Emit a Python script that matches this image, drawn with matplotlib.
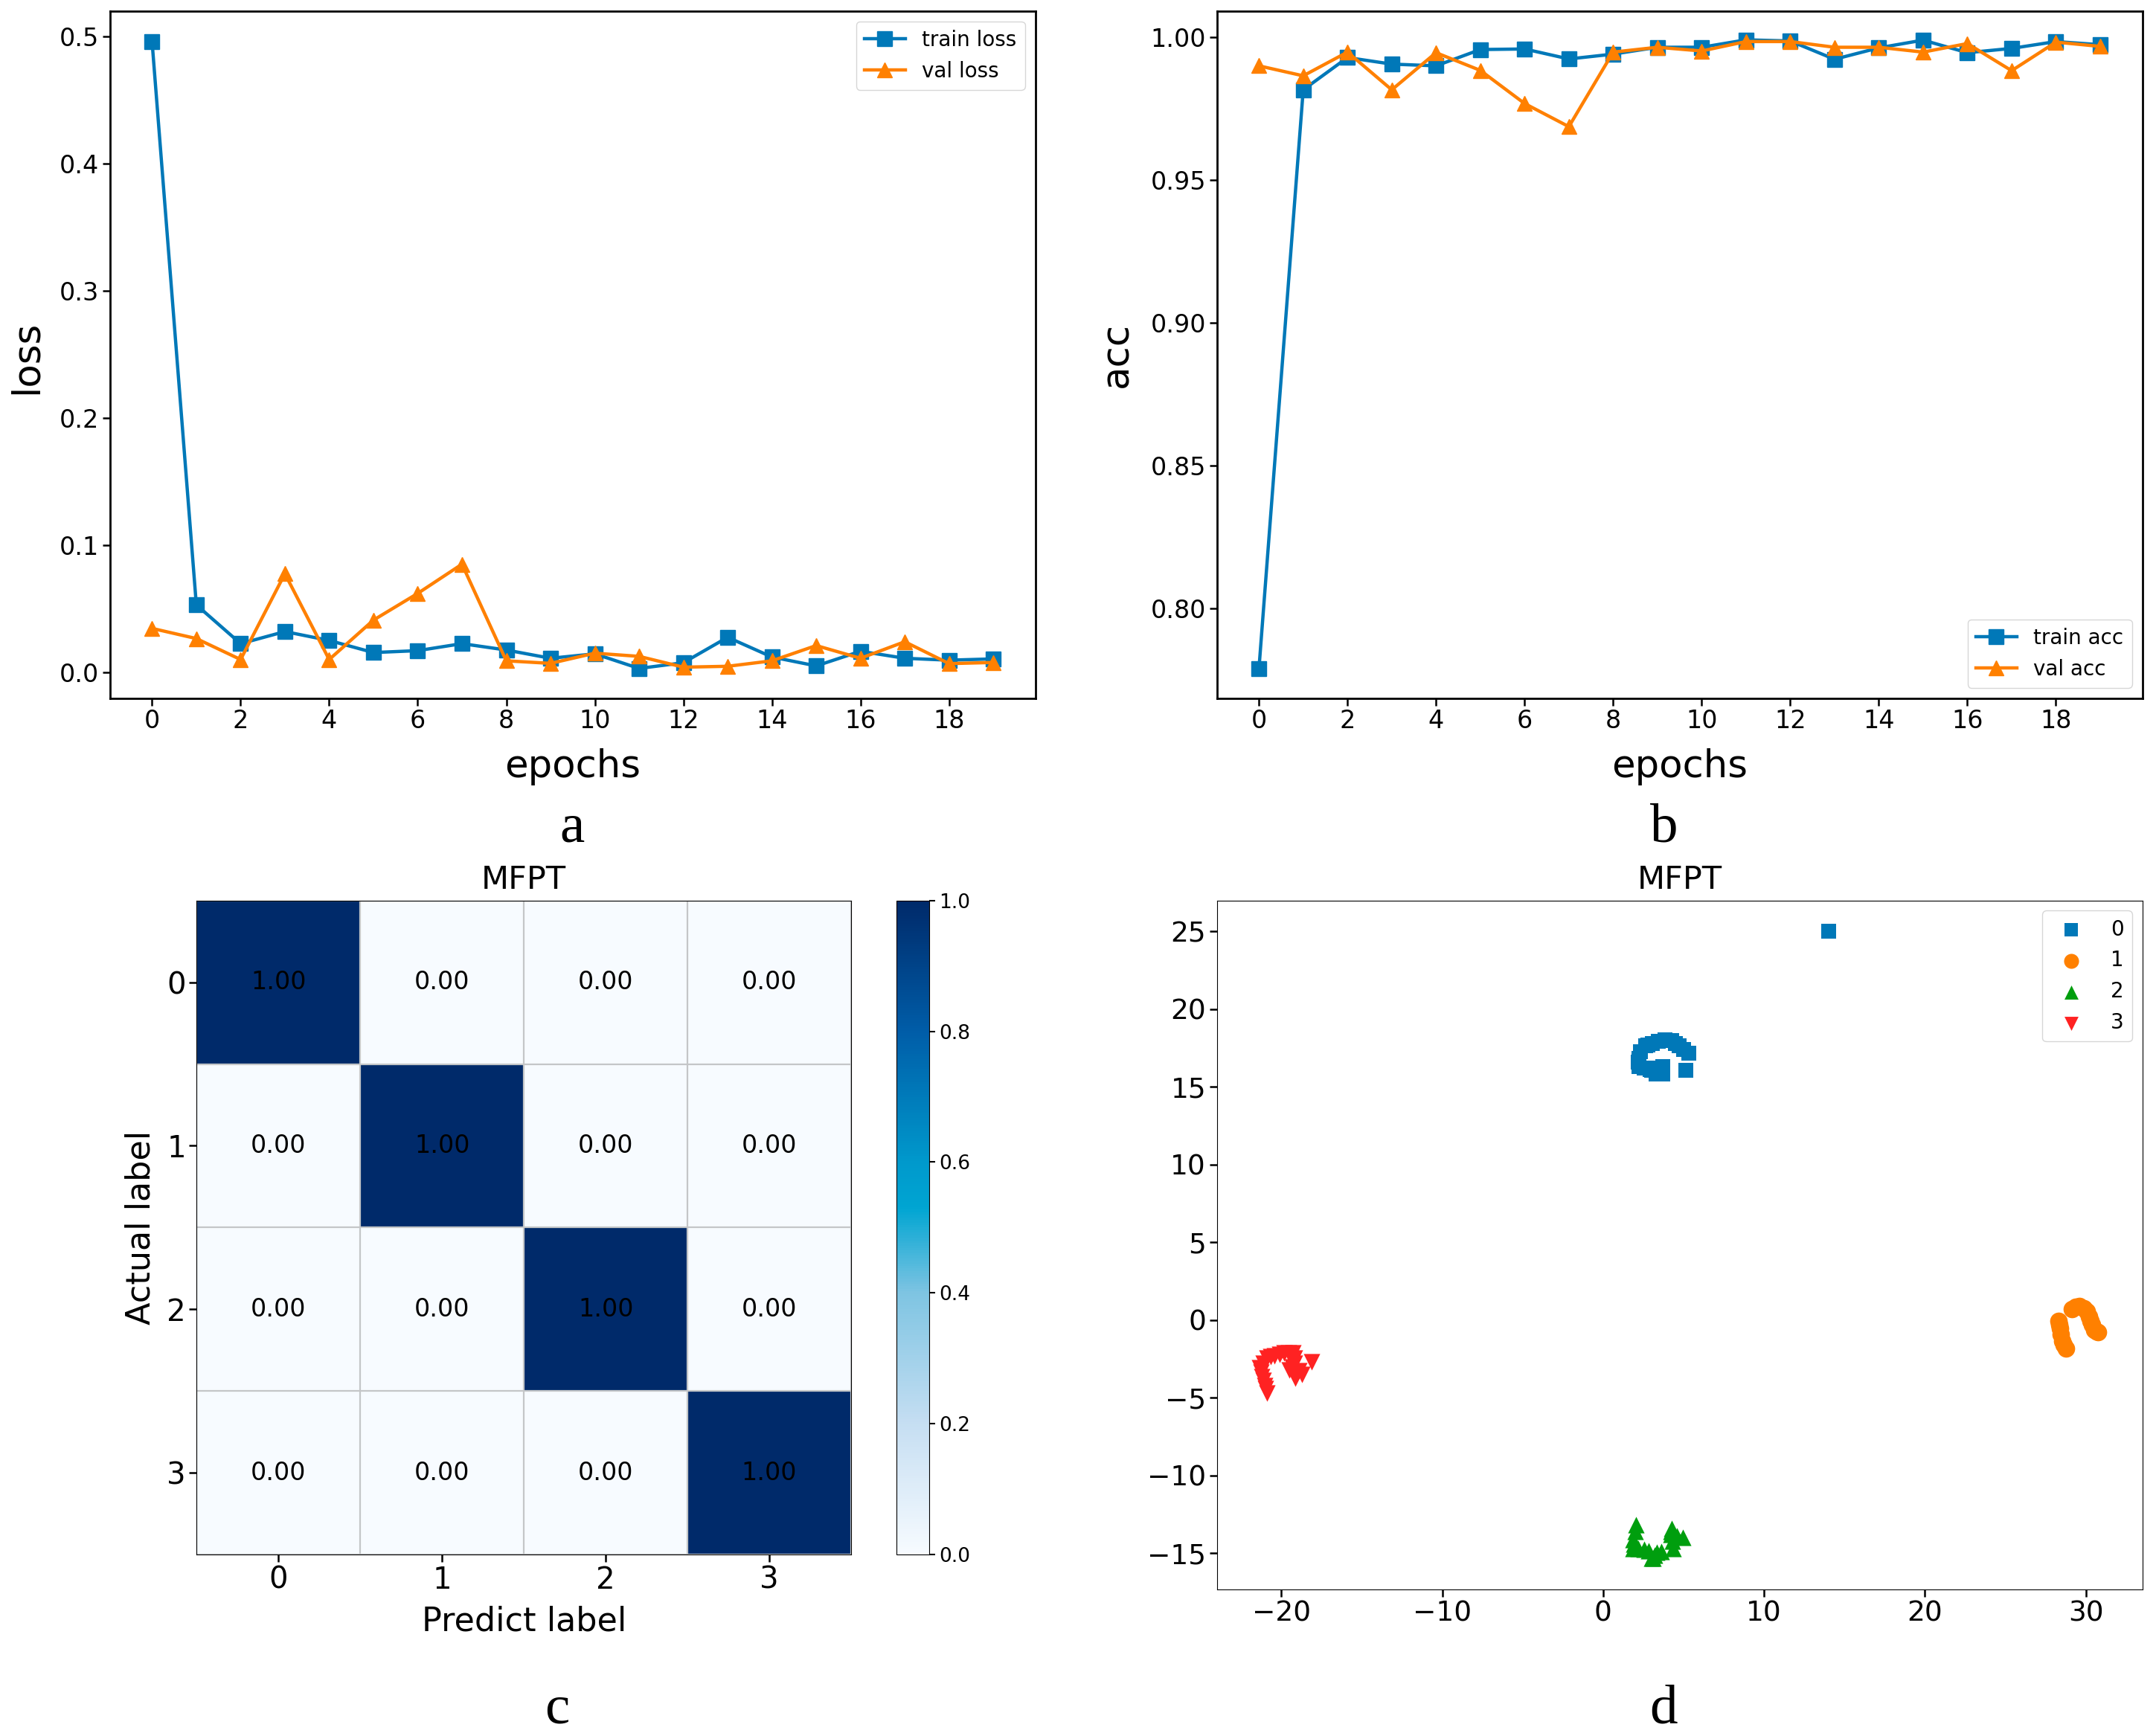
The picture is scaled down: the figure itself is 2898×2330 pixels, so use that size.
import numpy as np
import matplotlib
matplotlib.use("Agg")
import matplotlib.pyplot as plt
from matplotlib.colors import LinearSegmentedColormap

W, H = 2898, 2330
S = 2898 / 1568.0

epochs = list(range(20))
train_loss = [.496,.053,.0225,.032,.025,.0155,.017,.0225,.0175,.011,.0145,.003,.0075,.0275,.012,.005,.0165,.011,.0095,.0105]
val_loss = [.0345,.0265,.010,.0775,.010,.041,.062,.085,.009,.007,.015,.0125,.004,.0047,.009,.021,.011,.024,.0068,.0077]
train_acc = [.7788,.9816,.9929,.9906,.99,.9957,.9959,.9924,.9941,.9965,.9965,.9991,.9987,.9923,.9963,.999,.9946,.9961,.9985,.9974]
val_acc = [.99,.9865,.9948,.9816,.9946,.9884,.9768,.9687,.9948,.9965,.9952,.9985,.9985,.9965,.9965,.9948,.9978,.9883,.9983,.9968]
confusion = [[1,0,0,0],[0,1,0,0],[0,0,1,0],[0,0,0,1]]
class_labels = ['0','1','2','3']
c0 = [(14,25),(2.23,16.86),(2.23,16.3),(2.62,17.65),(3.08,17.78),(3.85,18.05),(4.24,17.97),(4.7,17.65),(5.31,17.17),(2.54,16.22),(3.0,16.06),(3.7,15.82),(3.3,15.82),(3.7,16.3),(5.16,16.06),
      (2.9,16.1),(2.2,16.6),(4.5,17.8),(5.0,17.4),(3.45,17.95),(2.8,17.7),(2.3,17.25),(3.3,16.2)]
c1 = [(28.29,-.03),(28.37,-.54),(28.52,-1.34),(28.75,-1.81),(29.14,.73),(29.6,.89),(30.06,.57),(30.29,-.06),(30.53,-.62),(30.76,-.78),
      (28.33,-.3),(28.45,-.9),(28.6,-1.6),(29.35,.85),(29.85,.75),(30.2,.25),(30.4,-.3),(30.65,-.7)]
c2 = [(2.05,-13.16),(1.87,-14.12),(1.87,-14.67),(2.56,-14.75),(3.1,-15.31),(3.33,-14.91),(4.33,-14.67),(4.25,-13.4),(4.22,-13.8),(4.95,-13.96),
      (2.0,-13.6),(1.9,-14.4),(2.2,-14.7),(2.85,-14.85),(3.2,-15.1),(3.6,-14.9),(4.3,-14.2),(4.6,-13.9),(4.2,-13.6),(3.0,-15.3)]
c3 = [(-20.88,-4.67),(-21.04,-4.2),(-21.19,-3.64),(-21.35,-3.08),(-20.88,-2.45),(-20.42,-2.29),(-19.81,-2.13),(-19.27,-2.13),(-19.19,-2.77),(-19.27,-3.32),(-19.11,-3.72),(-18.88,-3.24),(-18.11,-2.69),
      (-20.96,-4.4),(-21.1,-3.9),(-21.27,-3.35),(-21.1,-2.8),(-20.65,-2.35),(-20.1,-2.2),(-19.55,-2.13),(-19.2,-2.45),(-19.3,-3.0),(-19.5,-3.2),(-19.2,-3.5),(-18.7,-3.5)]

BLUE, ORANGE, GREEN, RED = '#0078b8', '#ff8000', '#009e0e', '#ff2222'

fig = plt.figure(figsize=(W/100, H/100), dpi=100, facecolor='white')

def axes_box(l, r, t, b):
    return fig.add_axes([l*S/W, 1-b*S/H, (r-l)*S/W, (b-t)*S/H])

def curve(ax, y1, y2, l1, l2, ylabel, ylab_x, ylab_y, loc):
    ax.plot(epochs, y1, '-s', color=BLUE, lw=3.2, ms=14, label=l1)
    ax.plot(epochs, y2, '-^', color=ORANGE, lw=3.2, ms=15, label=l2)
    ax.set_xlim(-.95, 19.95)
    ax.set_xticks(range(0, 20, 2))
    ax.tick_params(labelsize=24, length=7, width=1.8)
    ax.set_xlabel('epochs', fontsize=37, labelpad=14)
    ax.set_ylabel(ylabel, fontsize=37)
    ax.yaxis.set_label_coords(ylab_x, ylab_y)
    ax.legend(loc=loc, fontsize=20, handlelength=2)
    for s in ax.spines.values():
        s.set_linewidth(2)

ax_a = axes_box(80, 753, 8, 508)
curve(ax_a, train_loss, val_loss, 'train loss', 'val loss', 'loss', -.07, .496, 'upper right')
ax_a.set_ylim(-.0205, .52)
ax_a.set_yticks([0, .1, .2, .3, .4, .5])

ax_b = axes_box(885, 1558, 8, 508)
curve(ax_b, train_acc, val_acc, 'train acc', 'val acc', 'acc', -.088, .5, 'lower right')
ax_b.set_ylim(.7685, 1.0092)
ax_b.set_yticks([.80, .85, .90, .95, 1.00])
ax_b.set_yticklabels(['0.80', '0.85', '0.90', '0.95', '1.00'])

cmap = LinearSegmentedColormap.from_list('heat', [(0, '#f7fbff'), (.2, '#c5def2'), (.4, '#7ec4e2'), (.53, '#00a5d2'), (.6, '#0099cc'), (.8, '#005da8'), (1, '#002a6a')])
ax_c = axes_box(143, 619, 655, 1131)
im = ax_c.imshow(confusion, cmap=cmap, vmin=0, vmax=1, aspect='auto')
ax_c.set_xticks(range(4)); ax_c.set_xticklabels(class_labels)
ax_c.set_yticks(range(4)); ax_c.set_yticklabels(class_labels)
ax_c.tick_params(labelsize=29, length=7, width=1.8)
ax_c.set_xticks(np.arange(-.5, 4), minor=True)
ax_c.set_yticks(np.arange(-.5, 4), minor=True)
ax_c.grid(which='minor', color='#c4c6c8', lw=1.6)
ax_c.tick_params(which='minor', length=0)
for i, row in enumerate(confusion):
    for j, v in enumerate(row):
        ax_c.text(j, i, f'{v:.2f}', ha='center', va='center', fontsize=24, color='black')
ax_c.set_title('MFPT', fontsize=31, pad=11)
ax_c.set_xlabel('Predict label', fontsize=32, labelpad=10)
ax_c.set_ylabel('Actual label', fontsize=32, labelpad=10)

cax = axes_box(652, 676, 655, 1131)
cb = fig.colorbar(im, cax=cax)
cb.set_ticks([0, .2, .4, .6, .8, 1.0])
cb.ax.tick_params(labelsize=19, length=6, width=1.5)

ax_d = axes_box(885, 1558, 655, 1156)
for pts, col, m, sz, lab in [(c0, BLUE, 's', 210, '0'), (c1, ORANGE, 'o', 290, '1'), (c2, GREEN, '^', 256, '2'), (c3, RED, 'v', 256, '3')]:
    ax_d.scatter([p[0] for p in pts], [p[1] for p in pts], c=col, marker=m, s=sz, linewidths=0, label=lab)
ax_d.set_xlim(-24.0, 33.5)
ax_d.set_ylim(-17.3, 27.0)
ax_d.set_xticks([-20, -10, 0, 10, 20, 30])
ax_d.set_yticks([-15, -10, -5, 0, 5, 10, 15, 20, 25])
ax_d.tick_params(labelsize=27, length=7, width=1.8)
ax_d.set_title('MFPT', fontsize=31, pad=11)
ax_d.legend(loc='upper right', fontsize=20, handletextpad=.9, markerscale=.85)

for x, y, t in [(416, 603, 'a'), (1210, 603, 'b'), (405, 1244, 'c'), (1210, 1244, 'd')]:
    fig.text(x/1568, 1-y/1261, t, fontsize=54, family='Liberation Serif', ha='center', va='center')

fig.savefig('out.png', dpi=100)
